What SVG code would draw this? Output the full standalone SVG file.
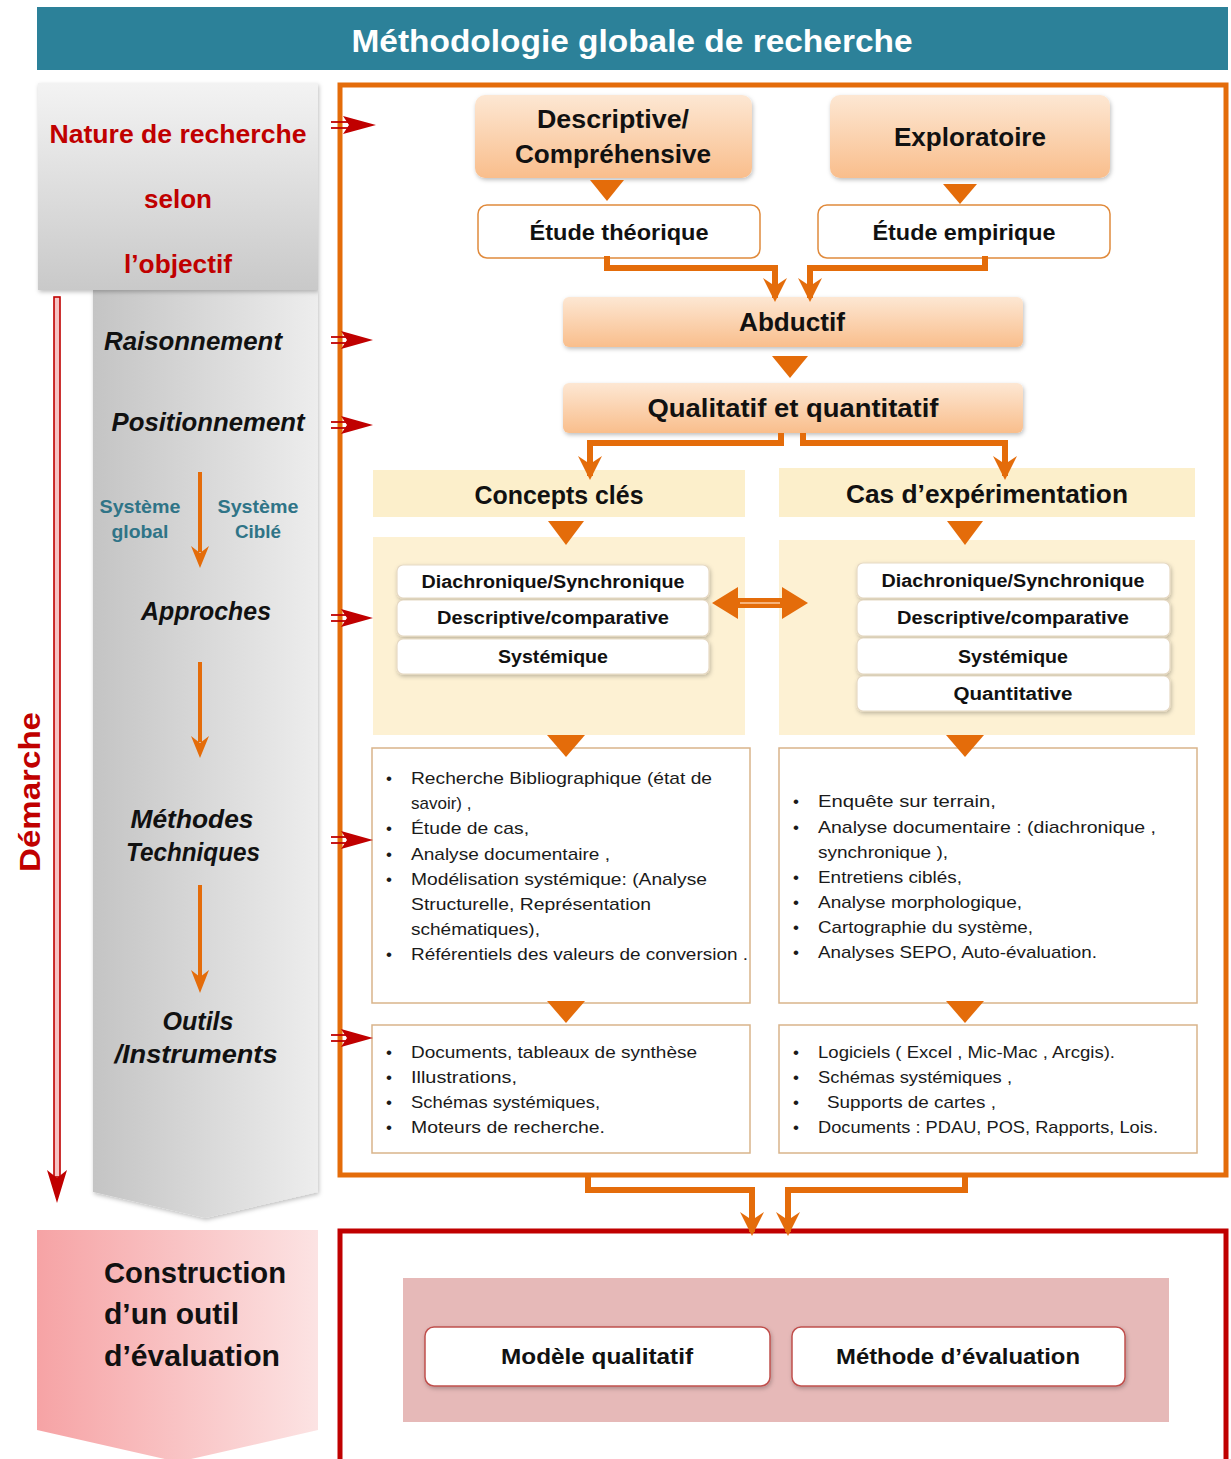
<svg xmlns="http://www.w3.org/2000/svg" width="1231" height="1459" viewBox="0 0 1231 1459">
  <defs>
    <style>
      .t { font-family: "Liberation Sans", Arial, sans-serif; }
      .b { font-weight: bold; }
      .red { fill: #C00000; }
      .blk { fill: #111; }
      .side { font-family: "Liberation Sans", Arial, sans-serif; font-weight: bold; font-style: italic; font-size: 25px; fill: #111; text-anchor: middle; }
      .sys { font-family: "Liberation Sans", Arial, sans-serif; font-weight: bold; font-size: 19px; fill: #2F7487; text-anchor: middle; }
      .box { font-family: "Liberation Sans", Arial, sans-serif; font-weight: bold; fill: #111; text-anchor: middle; }
      .row { font-family: "Liberation Sans", Arial, sans-serif; font-weight: bold; font-size: 18px; fill: #111; text-anchor: middle; }
      .li { font-family: "Liberation Sans", Arial, sans-serif; font-size: 17px; fill: #1a1a1a; }
      .peach { fill: url(#peach); filter: url(#soft); }
      .study { fill: #fff; stroke: #E08A3C; stroke-width: 1.5; }
      .pill { fill: #fff; stroke: #E6D9C4; stroke-width: 1.2; filter: url(#soft); }
      .list { fill: #fff; stroke: #D9B48A; stroke-width: 1.5; }
      .tri { fill: #E46C0A; }
      .conn { fill: none; stroke: #E46C0A; stroke-width: 6; marker-end: url(#barb); }
      .step line { stroke: #E46C0A; stroke-width: 4; }
      .step path { fill: #E46C0A; }
      .redarrow line { stroke: #C00000; stroke-width: 1.8; }
      .redarrow path { fill: #C00000; }
    </style>
    <linearGradient id="peach" x1="0" y1="0" x2="0" y2="1">
      <stop offset="0" stop-color="#FDE7D3"/>
      <stop offset="1" stop-color="#F9BE8C"/>
    </linearGradient>
    <linearGradient id="grayTop" x1="0" y1="0" x2="0" y2="1">
      <stop offset="0" stop-color="#F3F3F3"/>
      <stop offset="1" stop-color="#C9C9C9"/>
    </linearGradient>
    <linearGradient id="grayCol" x1="0" y1="0" x2="1" y2="0">
      <stop offset="0" stop-color="#C4C4C4"/>
      <stop offset="1" stop-color="#EDEDED"/>
    </linearGradient>
    <linearGradient id="pinkCol" x1="0" y1="0" x2="1" y2="0">
      <stop offset="0" stop-color="#F6A3A5"/>
      <stop offset="1" stop-color="#FCE3E3"/>
    </linearGradient>
    <filter id="soft" x="-10%" y="-10%" width="120%" height="130%">
      <feDropShadow dx="1" dy="2" stdDeviation="2" flood-color="#000" flood-opacity="0.25"/>
    </filter>
    <marker id="barb" viewBox="0 0 12 12" refX="10" refY="6" markerWidth="4" markerHeight="4" orient="auto" markerUnits="strokeWidth">
      <path d="M0,0 L12,6 L0,12 L4,6 z" fill="#E46C0A"/>
    </marker>
  </defs>

  <rect width="1231" height="1459" fill="#fff"/>

  <!-- title banner -->
  <g id="title">
    <rect x="37" y="7" width="1191" height="63" fill="#2C8199"/>
    <text class="t b" x="632" y="52" font-size="32" fill="#fff" text-anchor="middle" textLength="561" lengthAdjust="spacingAndGlyphs">Méthodologie globale de recherche</text>
  </g>

  <!-- left column: gray chevron of steps -->
  <g id="steps-column">
    <polygon points="93,290 318,290 318,1192 205,1218 93,1192" fill="url(#grayCol)" filter="url(#soft)"/>
  </g>

  <g id="nature">
    <rect x="38" y="83" width="280" height="207" fill="url(#grayTop)" filter="url(#soft)"/>
    <text class="t b red" x="178" y="143" font-size="26" text-anchor="middle" textLength="257" lengthAdjust="spacingAndGlyphs">Nature de recherche</text>
    <text class="t b red" x="178" y="208" font-size="26" text-anchor="middle">selon</text>
    <text class="t b red" x="178" y="273" font-size="26" text-anchor="middle" textLength="108" lengthAdjust="spacingAndGlyphs">l’objectif</text>
  </g>

  <g id="demarche">
    <rect x="54" y="297" width="6" height="880" fill="#F6C4C4" stroke="#C00000" stroke-width="1.6"/>
    <path d="M47,1170 L57,1178 L67,1170 L57,1203 z" fill="#C00000"/>
    <text class="t b red" transform="translate(40,792) rotate(-90)" font-size="30" text-anchor="middle" textLength="160" lengthAdjust="spacingAndGlyphs">Démarche</text>
  </g>

  <g id="step-labels">
    <text class="side" x="193" y="350" textLength="178" lengthAdjust="spacingAndGlyphs">Raisonnement</text>
    <text class="side" x="208" y="431" textLength="193" lengthAdjust="spacingAndGlyphs">Positionnement</text>
    <text class="sys" x="140" y="513" textLength="81" lengthAdjust="spacingAndGlyphs">Système</text>
    <text class="sys" x="140" y="538" textLength="57" lengthAdjust="spacingAndGlyphs">global</text>
    <text class="sys" x="258" y="513" textLength="81" lengthAdjust="spacingAndGlyphs">Système</text>
    <text class="sys" x="258" y="538" textLength="46" lengthAdjust="spacingAndGlyphs">Ciblé</text>
    <text class="side" x="206" y="620" textLength="130" lengthAdjust="spacingAndGlyphs">Approches</text>
    <text class="side" x="192" y="828" textLength="123" lengthAdjust="spacingAndGlyphs">Méthodes</text>
    <text class="side" x="193" y="861" textLength="134" lengthAdjust="spacingAndGlyphs">Techniques</text>
    <text class="side" x="198" y="1030" textLength="71" lengthAdjust="spacingAndGlyphs">Outils</text>
    <text class="side" x="196" y="1063" textLength="163" lengthAdjust="spacingAndGlyphs">/Instruments</text>
  </g>

  <!-- evaluation tool column -->
  <g id="construction">
    <polygon points="37,1230 318,1230 318,1430 178,1462 37,1430" fill="url(#pinkCol)"/>
    <text class="t b blk" x="104" y="1283" font-size="30" textLength="182" lengthAdjust="spacingAndGlyphs">Construction</text>
    <text class="t b blk" x="104" y="1324" font-size="30" textLength="135" lengthAdjust="spacingAndGlyphs">d’un outil</text>
    <text class="t b blk" x="104" y="1366" font-size="30" textLength="176" lengthAdjust="spacingAndGlyphs">d’évaluation</text>
  </g>

  <!-- research frame -->
  <g id="frame">
    <rect x="340" y="85" width="886" height="1090" fill="#fff" stroke="#E46C0A" stroke-width="5"/>
  </g>

  <g id="descriptive">
    <rect class="peach" x="475" y="95" width="277" height="83" rx="10"/>
    <text class="box" x="613" y="128" font-size="25" textLength="152" lengthAdjust="spacingAndGlyphs">Descriptive/</text>
    <text class="box" x="613" y="163" font-size="25" textLength="196" lengthAdjust="spacingAndGlyphs">Compréhensive</text>
  </g>
  <g id="exploratoire">
    <rect class="peach" x="830" y="95" width="280" height="83" rx="10"/>
    <text class="box" x="970" y="146" font-size="25" textLength="152" lengthAdjust="spacingAndGlyphs">Exploratoire</text>
  </g>
  <g id="etude-theorique">
    <rect class="study" x="478" y="205" width="282" height="53" rx="9"/>
    <text class="box" x="619" y="240" font-size="22" textLength="179" lengthAdjust="spacingAndGlyphs">Étude théorique</text>
  </g>
  <g id="etude-empirique">
    <rect class="study" x="818" y="205" width="292" height="53" rx="9"/>
    <text class="box" x="964" y="240" font-size="22" textLength="183" lengthAdjust="spacingAndGlyphs">Étude empirique</text>
  </g>
  <g id="abductif">
    <rect class="peach" x="563" y="297" width="460" height="50" rx="6"/>
    <text class="box" x="792" y="331" font-size="25" textLength="106" lengthAdjust="spacingAndGlyphs">Abductif</text>
  </g>
  <g id="qualitatif">
    <rect class="peach" x="563" y="383" width="460" height="50" rx="6"/>
    <text class="box" x="793" y="417" font-size="25" textLength="291" lengthAdjust="spacingAndGlyphs">Qualitatif et quantitatif</text>
  </g>

  <g id="concepts">
    <rect x="373" y="470" width="372" height="47" fill="#FCEFCB"/>
    <text class="box" x="559" y="504" font-size="26" textLength="169" lengthAdjust="spacingAndGlyphs">Concepts clés</text>
    <rect x="373" y="537" width="372" height="198" fill="#FDF1D3"/>
    <rect class="pill" x="397" y="565" width="312" height="33" rx="6"/>
    <rect class="pill" x="397" y="600" width="312" height="36" rx="6"/>
    <rect class="pill" x="397" y="639" width="312" height="35" rx="6"/>
    <text class="row" x="553" y="588" textLength="263" lengthAdjust="spacingAndGlyphs">Diachronique/Synchronique</text>
    <text class="row" x="553" y="624" textLength="232" lengthAdjust="spacingAndGlyphs">Descriptive/comparative</text>
    <text class="row" x="553" y="663" textLength="110" lengthAdjust="spacingAndGlyphs">Systémique</text>
  </g>

  <g id="cas">
    <rect x="779" y="468" width="416" height="49" fill="#FCEFCB"/>
    <text class="box" x="987" y="503" font-size="26" textLength="282" lengthAdjust="spacingAndGlyphs">Cas d’expérimentation</text>
    <rect x="779" y="540" width="416" height="195" fill="#FDF1D3"/>
    <rect class="pill" x="857" y="563" width="313" height="35" rx="6"/>
    <rect class="pill" x="857" y="600" width="313" height="36" rx="6"/>
    <rect class="pill" x="857" y="638" width="313" height="36" rx="6"/>
    <rect class="pill" x="857" y="676" width="313" height="35" rx="6"/>
    <text class="row" x="1013" y="587" textLength="263" lengthAdjust="spacingAndGlyphs">Diachronique/Synchronique</text>
    <text class="row" x="1013" y="624" textLength="232" lengthAdjust="spacingAndGlyphs">Descriptive/comparative</text>
    <text class="row" x="1013" y="663" textLength="110" lengthAdjust="spacingAndGlyphs">Systémique</text>
    <text class="row" x="1013" y="700" textLength="119" lengthAdjust="spacingAndGlyphs">Quantitative</text>
  </g>

  <g id="methodes-concepts">
    <rect class="list" x="372" y="748" width="378" height="255"/>
    <g class="li">
      <text x="386" y="784">•</text><text x="411" y="784" textLength="301" lengthAdjust="spacingAndGlyphs">Recherche Bibliographique (état de</text>
      <text x="411" y="809">savoir) ,</text>
      <text x="386" y="834">•</text><text x="411" y="834" textLength="118" lengthAdjust="spacingAndGlyphs">Étude  de cas,</text>
      <text x="386" y="860">•</text><text x="411" y="860" textLength="199" lengthAdjust="spacingAndGlyphs">Analyse documentaire ,</text>
      <text x="386" y="885">•</text><text x="411" y="885" textLength="296" lengthAdjust="spacingAndGlyphs">Modélisation systémique: (Analyse</text>
      <text x="411" y="910" textLength="240" lengthAdjust="spacingAndGlyphs">Structurelle, Représentation</text>
      <text x="411" y="935" textLength="129" lengthAdjust="spacingAndGlyphs">schématiques),</text>
      <text x="386" y="960">•</text><text x="411" y="960" textLength="337" lengthAdjust="spacingAndGlyphs">Référentiels des valeurs de conversion .</text>
    </g>
  </g>

  <g id="methodes-cas">
    <rect class="list" x="779" y="748" width="418" height="255"/>
    <g class="li">
      <text x="793" y="807">•</text><text x="818" y="807" textLength="178" lengthAdjust="spacingAndGlyphs">Enquête  sur  terrain,</text>
      <text x="793" y="833">•</text><text x="818" y="833" textLength="338" lengthAdjust="spacingAndGlyphs">Analyse documentaire :  (diachronique ,</text>
      <text x="818" y="858" textLength="130" lengthAdjust="spacingAndGlyphs">synchronique ),</text>
      <text x="793" y="883">•</text><text x="818" y="883" textLength="144" lengthAdjust="spacingAndGlyphs">Entretiens ciblés,</text>
      <text x="793" y="908">•</text><text x="818" y="908" textLength="204" lengthAdjust="spacingAndGlyphs">Analyse morphologique,</text>
      <text x="793" y="933">•</text><text x="818" y="933" textLength="215" lengthAdjust="spacingAndGlyphs">Cartographie du système,</text>
      <text x="793" y="958">•</text><text x="818" y="958" textLength="279" lengthAdjust="spacingAndGlyphs">Analyses  SEPO, Auto-évaluation.</text>
    </g>
  </g>

  <g id="outils-concepts">
    <rect class="list" x="372" y="1025" width="378" height="128"/>
    <g class="li">
      <text x="386" y="1058">•</text><text x="411" y="1058" textLength="286" lengthAdjust="spacingAndGlyphs">Documents, tableaux de synthèse</text>
      <text x="386" y="1083">•</text><text x="411" y="1083" textLength="106" lengthAdjust="spacingAndGlyphs">Illustrations,</text>
      <text x="386" y="1108">•</text><text x="411" y="1108" textLength="189" lengthAdjust="spacingAndGlyphs">Schémas systémiques,</text>
      <text x="386" y="1133">•</text><text x="411" y="1133" textLength="194" lengthAdjust="spacingAndGlyphs">Moteurs de recherche.</text>
    </g>
  </g>

  <g id="outils-cas">
    <rect class="list" x="779" y="1025" width="418" height="128"/>
    <g class="li">
      <text x="793" y="1058">•</text><text x="818" y="1058" textLength="297" lengthAdjust="spacingAndGlyphs">Logiciels ( Excel , Mic-Mac , Arcgis).</text>
      <text x="793" y="1083">•</text><text x="818" y="1083" textLength="194" lengthAdjust="spacingAndGlyphs">Schémas systémiques ,</text>
      <text x="793" y="1108">•</text><text x="827" y="1108" textLength="169" lengthAdjust="spacingAndGlyphs">Supports de cartes ,</text>
      <text x="793" y="1133">•</text><text x="818" y="1133" textLength="340" lengthAdjust="spacingAndGlyphs">Documents : PDAU, POS, Rapports, Lois.</text>
    </g>
  </g>

  <!-- evaluation frame -->
  <g id="evaluation">
    <rect x="340" y="1231" width="886" height="240" fill="#fff" stroke="#C00000" stroke-width="5"/>
    <rect x="403" y="1278" width="766" height="144" fill="#E6B9B8"/>
  </g>
  <g id="modele-qualitatif">
    <rect x="425" y="1327" width="345" height="59" rx="9" fill="#fff" stroke="#C0504D" stroke-width="1.5" filter="url(#soft)"/>
    <text class="box" x="597" y="1364" font-size="22" textLength="192" lengthAdjust="spacingAndGlyphs">Modèle qualitatif</text>
  </g>
  <g id="methode-evaluation">
    <rect x="792" y="1327" width="333" height="59" rx="9" fill="#fff" stroke="#C0504D" stroke-width="1.5" filter="url(#soft)"/>
    <text class="box" x="958" y="1364" font-size="22" textLength="244" lengthAdjust="spacingAndGlyphs">Méthode d’évaluation</text>
  </g>

  <!-- connectors -->
  <g id="connectors">
    <!-- step arrows inside the gray column -->
    <g class="step">
      <line x1="200" y1="472" x2="200" y2="552"/><path d="M191,546 L200,553 L209,546 L200,568 z"/>
      <line x1="200" y1="662" x2="200" y2="742"/><path d="M191,736 L200,743 L209,736 L200,758 z"/>
      <line x1="200" y1="885" x2="200" y2="977"/><path d="M191,970 L200,977 L209,970 L200,993 z"/>
    </g>

    <!-- red pointers from step labels into the frame -->
    <g class="redarrow">
      <line x1="331" y1="122" x2="350" y2="122"/><line x1="331" y1="128" x2="350" y2="128"/><path d="M343,116 L376,125 L343,134 L349,125 z"/>
      <line x1="331" y1="337" x2="348" y2="337"/><line x1="331" y1="343" x2="348" y2="343"/><path d="M341,331 L373,340 L341,349 L347,340 z"/>
      <line x1="331" y1="422" x2="348" y2="422"/><line x1="331" y1="428" x2="348" y2="428"/><path d="M341,416 L373,425 L341,434 L347,425 z"/>
      <line x1="331" y1="615" x2="348" y2="615"/><line x1="331" y1="621" x2="348" y2="621"/><path d="M341,609 L373,618 L341,627 L347,618 z"/>
      <line x1="331" y1="837" x2="348" y2="837"/><line x1="331" y1="843" x2="348" y2="843"/><path d="M341,831 L373,840 L341,849 L347,840 z"/>
      <line x1="331" y1="1035" x2="348" y2="1035"/><line x1="331" y1="1041" x2="348" y2="1041"/><path d="M341,1029 L373,1038 L341,1047 L347,1038 z"/>
    </g>

    <!-- down triangles -->
    <polygon class="tri" points="590,180 624,180 607,201"/>
    <polygon class="tri" points="943,184 977,184 960,204"/>
    <polygon class="tri" points="772,356 808,356 790,378"/>
    <polygon class="tri" points="548,521 584,521 566,545"/>
    <polygon class="tri" points="947,521 983,521 965,545"/>
    <polygon class="tri" points="547,735 585,735 566,757"/>
    <polygon class="tri" points="946,735 984,735 965,757"/>
    <polygon class="tri" points="547,1001 585,1001 566,1023"/>
    <polygon class="tri" points="946,1001 984,1001 965,1023"/>

    <!-- merging brackets -->
    <path class="conn" d="M607,256 V268 H775 V298"/>
    <path class="conn" d="M985,256 V268 H810 V298"/>
    <path class="conn" d="M781,433 V443 H590 V476"/>
    <path class="conn" d="M803,433 V443 H1005 V476"/>
    <path class="conn" d="M588,1175 V1190 H752 V1232"/>
    <path class="conn" d="M965,1175 V1190 H788 V1232"/>

    <!-- two-way link between the approach panels -->
    <polygon points="712,603 738,587 738,598 782,598 782,587 808,603 782,619 782,608 738,608 738,619" fill="#E46C0A"/>
    <line x1="740" y1="603" x2="780" y2="603" stroke="#F6B27A" stroke-width="2"/>
  </g>
</svg>
